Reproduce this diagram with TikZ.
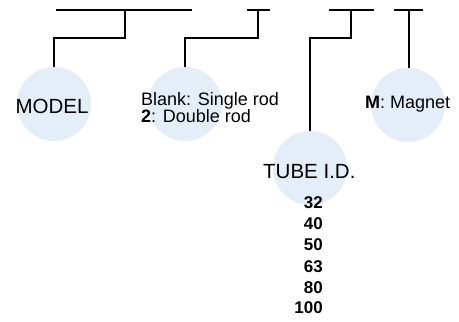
\documentclass[tikz,border=0pt]{standalone}
\usepackage{fontspec}
\setmainfont{Liberation Sans}
\definecolor{bubble}{RGB}{228,238,248}
\begin{document}
\begin{tikzpicture}[x=1pt,y=-1pt,
  link/.style={draw=black,line width=1.2pt},
  bubble/.style={circle,fill=bubble,draw=none,minimum size=74pt,inner sep=0pt},
  big/.style={font=\fontsize{20.5}{24}\selectfont,inner sep=0pt},
  mid/.style={font=\fontsize{18}{21}\selectfont,inner sep=0pt},
  num/.style={font=\fontsize{17}{20}\selectfont\bfseries,inner sep=0pt,anchor=base east}]
\useasboundingbox (0,0) rectangle (459,322);
% circles
\node[bubble] (c1) at (54,104) {};
\node[bubble] (c2) at (185,104) {};
\node[bubble] (c3) at (310,168) {};
\node[bubble] (c4) at (408,105) {};
% top bars
\coordinate (a1) at (56,10); \coordinate (z1) at (192,10); \coordinate (m1) at (125,10);
\coordinate (a2) at (247,10); \coordinate (z2) at (270,10); \coordinate (m2) at (258,10);
\coordinate (a3) at (329,10); \coordinate (z3) at (374,10); \coordinate (m3) at (351,10);
\coordinate (a4) at (394,10); \coordinate (z4) at (423,10); \coordinate (m4) at (409,10);
\draw[link] (a1) -- (z1);
\draw[link] (a2) -- (z2);
\draw[link] (a3) -- (z3);
\draw[link] (a4) -- (z4);
% connectors
\draw[link] (m1) -- (m1 |- 0,38) -| (c1.north);
\draw[link] (m2) -- (m2 |- 0,38) -| (c2.north);
\draw[link] (m3) -- (m3 |- 0,38) -| (c3.north);
\draw[link] (m4) -- (m4 |- c4.north);
% texts
\node[big,anchor=base] (t1) at (52,113) {MODEL};
\node[mid,anchor=base west] (t2a) at (141,105) {Blank: Single rod};
\node[mid,anchor=base west] (t2b) at (141,122) {\textbf{2}: Double rod};
\node[big,anchor=base west] (t3) at (263,178) {TUBE I.D.};
\node[mid,anchor=base west] (t4) at (365,108) {\textbf{M}: Magnet};
\node[num] (n1) at (323,208) {32};
\node[num] (n2) at (323,229) {40};
\node[num] (n3) at (323,250) {50};
\node[num] (n4) at (323,272) {63};
\node[num] (n5) at (323,293) {80};
\node[num] (n6) at (323,313) {100};
\end{tikzpicture}
\end{document}
